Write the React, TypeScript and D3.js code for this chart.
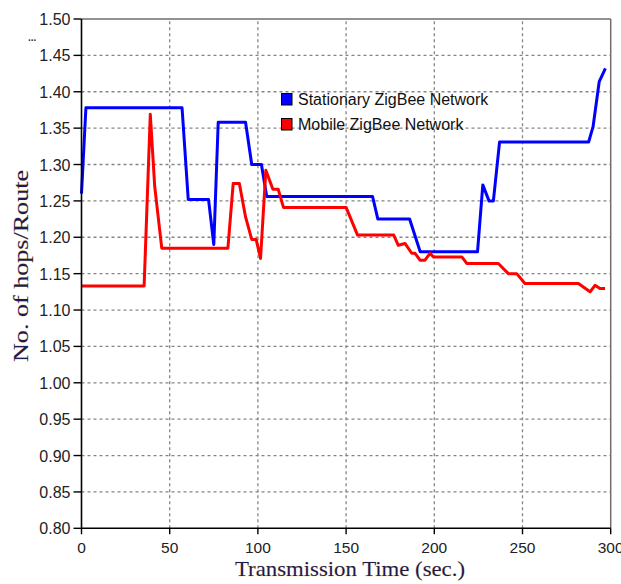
import React from "react";
import * as d3 from "d3";

const xTicks = [0, 50, 100, 150, 200, 250, 300];
const yTicks = [0.8, 0.85, 0.9, 0.95, 1.0, 1.05, 1.1, 1.15, 1.2, 1.25, 1.3, 1.35, 1.4, 1.45, 1.5];

const seriesNames = ["Stationary ZigBee Network", "Mobile ZigBee Network"];
const seriesColors = ["#0000ff", "#ff0000"];

const stationaryTime = [0, 2.5, 57, 60.5, 72, 75, 77.5, 93, 96.5, 102, 105, 165, 168, 186, 192, 224.5, 227.5, 231, 233.5, 237, 287.5, 290, 293.5, 297];
const stationaryHops = [1.26, 1.378, 1.378, 1.252, 1.252, 1.19, 1.358, 1.358, 1.3, 1.3, 1.256, 1.256, 1.225, 1.225, 1.18, 1.18, 1.272, 1.25, 1.25, 1.331, 1.331, 1.352, 1.414, 1.432];

const mobileTime = [0, 35.5, 39, 41.5, 45.5, 83, 86, 89.5, 93, 96.5, 99, 101.5, 104.5, 108.5, 111.5, 114.5, 150, 156.5, 177, 179.6, 183.4, 187.2, 189.1, 191.9, 194.7, 197.6, 199.5, 215.6, 218.4, 236.3, 242, 246.7, 251.4, 281.7, 288.3, 291.1, 293.9, 296.8];
const mobileHops = [1.133, 1.133, 1.369, 1.27, 1.185, 1.185, 1.274, 1.274, 1.228, 1.197, 1.197, 1.171, 1.292, 1.266, 1.266, 1.241, 1.241, 1.203, 1.203, 1.189, 1.1915, 1.178, 1.178, 1.1685, 1.1685, 1.178, 1.173, 1.173, 1.164, 1.164, 1.15, 1.15, 1.1365, 1.1365, 1.125, 1.134, 1.1296, 1.1296];

const xTitle = "Transmission Time (sec.)";
const yTitle = "No. of hops/Route";

export default function App() {
  const x = d3.scaleLinear().domain([0, 300]).range([81.5, 610.7]);
  const y = d3.scaleLinear().domain([0.8, 1.5]).range([528.3, 19]);
  const line = d3
    .line<[number, number]>()
    .x((d) => x(d[0]))
    .y((d) => y(d[1]));
  const stationary = stationaryTime.map((t, i) => [t, stationaryHops[i]] as [number, number]);
  const mobile = mobileTime.map((t, i) => [t, mobileHops[i]] as [number, number]);
  const [x0, x1] = x.range();
  const [y0, y1] = y.range();
  const sans = "'Liberation Sans', Arial, sans-serif";
  const serif = "'Liberation Serif', 'Times New Roman', serif";

  return (
    <svg
      width={621}
      height={584}
      style={{ position: "absolute", left: 0, top: 0, background: "#fff" }}
    >
      <rect x={0} y={0} width={621} height={584} fill="#fff" />
      {/* grid */}
      {yTicks.slice(1, -1).map((t) => (
        <line key={"gy" + t} x1={x0} x2={x1} y1={y(t)} y2={y(t)} stroke="#858585" strokeWidth={1.3} strokeDasharray="3,3" />
      ))}
      {xTicks.slice(1, -1).map((t) => (
        <line key={"gx" + t} x1={x(t)} x2={x(t)} y1={y0} y2={y1} stroke="#858585" strokeWidth={1.3} strokeDasharray="3,3" />
      ))}
      {/* frame top/right */}
      <line x1={x0} x2={x1} y1={y1} y2={y1} stroke="#6e6e6e" strokeWidth={1.5} />
      <line x1={x1} x2={x1} y1={y1} y2={y0} stroke="#6e6e6e" strokeWidth={1.5} />
      {/* series */}
      <path d={line(stationary) || ""} fill="none" stroke={seriesColors[0]} strokeWidth={3} strokeLinejoin="round" />
      <path d={line(mobile) || ""} fill="none" stroke={seriesColors[1]} strokeWidth={3} strokeLinejoin="round" />
      {/* axes */}
      <line x1={x0} x2={x1} y1={y0} y2={y0} stroke="#000" strokeWidth={1.6} />
      <line x1={x0} x2={x0} y1={y0} y2={y1} stroke="#000" strokeWidth={1.6} />
      {yTicks.map((t) => (
        <g key={"ty" + t}>
          <line x1={x0 - 8} x2={x0} y1={y(t)} y2={y(t)} stroke="#000" strokeWidth={1.4} />
          <text x={x0 - 11} y={y(t) + 6} textAnchor="end" fontFamily={sans} fontSize={16} fill="#222">
            {t.toFixed(2)}
          </text>
        </g>
      ))}
      {xTicks.map((t) => (
        <g key={"tx" + t}>
          <line x1={x(t)} x2={x(t)} y1={y0} y2={y0 + 6} stroke="#000" strokeWidth={1.4} />
          <text x={x(t)} y={553} textAnchor="middle" fontFamily={sans} fontSize={15.5} fill="#222">
            {t}
          </text>
        </g>
      ))}
      {/* titles */}
      <text
        x={(235 + 465) / 2}
        y={576}
        textAnchor="middle"
        fontFamily={serif}
        fontSize={21}
        fill="#1c1c50"
        stroke="#f0c060"
        strokeWidth={0.6}
        strokeOpacity={0.7}
        style={{ paintOrder: "stroke" }}
        textLength={230}
        lengthAdjust="spacingAndGlyphs"
      >
        {xTitle}
      </text>
      <text
        transform={`translate(28,${(170 + 362) / 2}) rotate(-90)`}
        textAnchor="middle"
        fontFamily={serif}
        fontSize={21}
        fill="#1c1c50"
        stroke="#f0c060"
        strokeWidth={0.6}
        strokeOpacity={0.7}
        style={{ paintOrder: "stroke" }}
        textLength={192}
        lengthAdjust="spacingAndGlyphs"
      >
        {yTitle}
      </text>
      <text x={28} y={41} fontFamily={sans} fontSize={10} fontWeight="bold" fill="#333">
        ...
      </text>
      {/* legend */}
      {seriesNames.map((n, i) => (
        <g key={n}>
          <rect x={281.5} y={93.5 + i * 25} width={10.5} height={11.5} fill={seriesColors[i]} stroke="#000" strokeWidth={1} />
          <text x={298} y={105 + i * 25} fontFamily={sans} fontSize={16} fill="#111">
            {n}
          </text>
        </g>
      ))}
    </svg>
  );
}
